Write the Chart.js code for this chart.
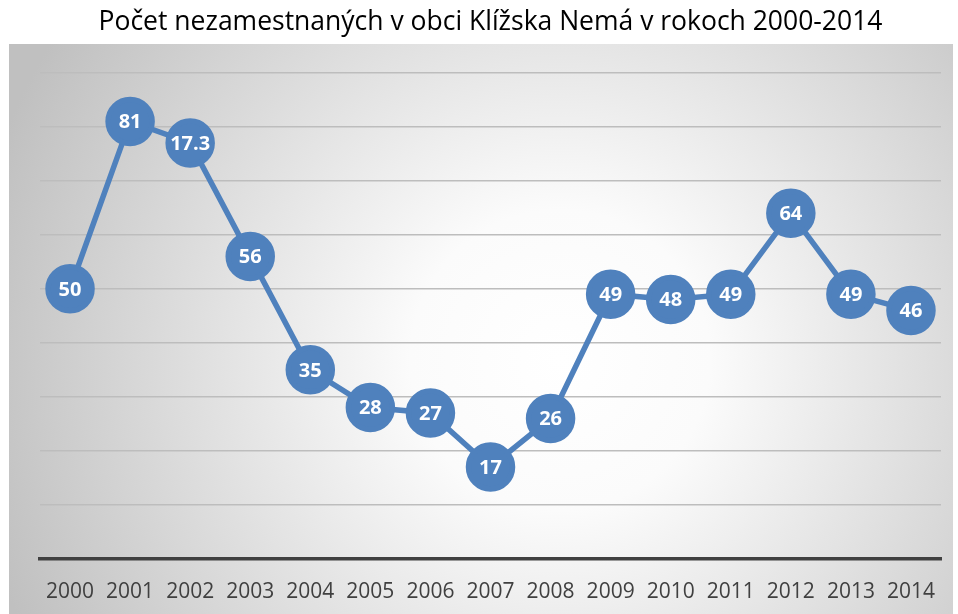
<!DOCTYPE html>
<html>
<head>
<meta charset="utf-8">
<script src="https://cdn.jsdelivr.net/npm/chart.js@4/dist/chart.umd.min.js"></script>
<style>
  html, body { margin: 0; padding: 0; background: #fff; }
  #wrap { width: 958px; height: 614px; }
</style>
</head>
<body>
<div id="wrap"><canvas id="myChart" width="958" height="614"></canvas></div>
<script>
// Data
const years = ['2000','2001','2002','2003','2004','2005','2006','2007','2008','2009','2010','2011','2012','2013','2014'];
const unemployed = [50, 81, 77, 56, 35, 28, 27, 17, 26, 49, 48, 49, 64, 49, 46];
// labels as printed on the points (2002 reads 17.3 in the original)
const pointLabels = ['50','81','17.3','56','35','28','27','17','26','49','48','49','64','49','46'];
const yTicks = [0, 90, 10];

const fontFam = "'Open Sans', 'Noto Sans', sans-serif";

// gray radial backdrop behind the plot
const backdrop = {
  id: 'backdrop',
  beforeDraw(chart) {
    const ctx = chart.ctx;
    const x0 = 9, y0 = 44, x1 = 953, y1 = 614;
    const g = ctx.createRadialGradient(560, 360, 0, 560, 360, 600);
    g.addColorStop(0, '#ffffff');
    g.addColorStop(0.25, '#fbfbfb');
    g.addColorStop(1, '#c0c0c0');
    ctx.save();
    ctx.fillStyle = g;
    ctx.fillRect(x0, y0, x1 - x0, y1 - y0);
    ctx.restore();
  }
};

// white numbers on the points
const valueLabels = {
  id: 'valueLabels',
  afterDatasetsDraw(chart) {
    const ctx = chart.ctx;
    const meta = chart.getDatasetMeta(0);
    ctx.save();
    ctx.fillStyle = '#ffffff';
    ctx.font = "bold 20px " + fontFam;
    ctx.textAlign = 'center';
    ctx.textBaseline = 'middle';
    meta.data.forEach(function(pt, i) {
      ctx.fillText(pointLabels[i], pt.x, pt.y + 1);
    });
    ctx.restore();
  }
};

const data = {
  labels: years,
  datasets: [{
    data: unemployed,
    borderColor: '#4f81bd',
    backgroundColor: '#4f81bd',
    pointBackgroundColor: '#4f81bd',
    pointBorderColor: '#4f81bd',
    pointRadius: 22,
    pointHoverRadius: 22,
    borderWidth: 5.5,
    tension: 0,
    clip: false,
    fill: false
  }]
};

const config = {
  type: 'line',
  data,
  options: {
    responsive: false,
    animation: false,
    events: [],
    layout: { autoPadding: false, padding: { left: 40, right: 17, top: 0, bottom: -4 } },
    plugins: {
      legend: { display: false },
      tooltip: { enabled: false },
      title: {
        display: true,
        text: 'Počet nezamestnaných v obci Klížska Nemá v rokoch 2000-2014',
        color: '#000000',
        font: { family: fontFam, size: 26.5, weight: 'normal' },
        padding: { top: 7, bottom: 34 }
      }
    },
    scales: {
      x: {
        offset: true,
        grid: { display: false },
        border: { display: true, color: '#404040', width: 3.5 },
        ticks: { color: '#404040', font: { family: fontFam, size: 21 }, padding: 13 },
        afterFit(scale) { scale.paddingLeft = 0; scale.paddingRight = 0; }
      },
      y: {
        min: yTicks[0],
        max: yTicks[1],
        ticks: { display: false, stepSize: yTicks[2] },
        grid: { color: '#bdbdbd', lineWidth: 1.5, drawTicks: false },
        border: { display: false }
      }
    }
  },
  plugins: [backdrop, valueLabels]
};

var myChart = new Chart(document.getElementById('myChart'), config);
</script>
</body>
</html>
